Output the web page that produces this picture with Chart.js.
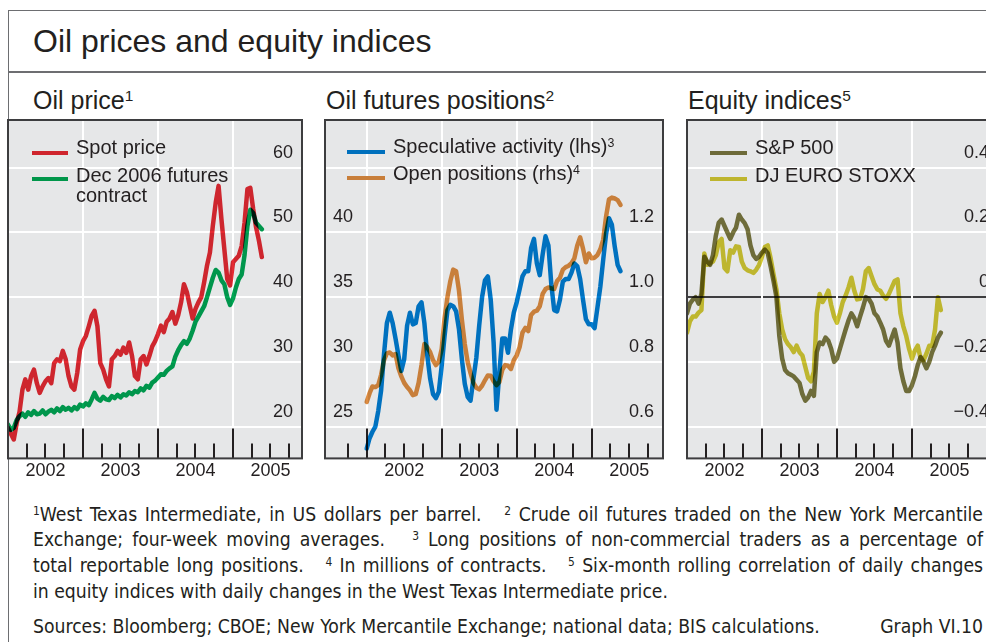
<!DOCTYPE html>
<html>
<head>
<meta charset="utf-8">
<script src="https://cdn.jsdelivr.net/npm/chart.js@4.4.1/dist/chart.umd.min.js"></script>
<style>
  html, body { margin: 0; padding: 0; width: 986px; height: 642px; overflow: hidden; background: #fff; }
  body { position: relative; font-family: "Liberation Sans", Arial, sans-serif; color: #231f20; }
  .abs { position: absolute; white-space: nowrap; }
  .frame { position: absolute; left: 8px; top: 10px; width: 1100px; height: 800px;
           border-left: 1.5px solid #6d6e71; border-top: 1.5px solid #6d6e71; }
  .rule { position: absolute; left: 8px; top: 71px; width: 1100px; height: 1.5px; background: #6d6e71; }
  .title { font-size: 32px; line-height: 32px; }
  .ptitle { font-size: 25px; line-height: 25px; }
  .leg { font-size: 20px; line-height: 20px; }
  .sw { position: absolute; height: 4px; }
  sup { font-size: 0.62em; line-height: 0; vertical-align: 0; position: relative; top: -0.48em; }
  .fn { position: absolute; left: 33px; width: 950px; font-family: "Liberation Sans Narrow", "DejaVu Sans Condensed", sans-serif;
        font-size: 19.2px; line-height: 19px; text-align: justify; text-align-last: justify; white-space: nowrap; }
  .fn.last { text-align-last: left; }
  canvas { position: absolute; }
</style>
</head>
<body>
<div class="frame"></div>
<div class="rule"></div>
<div class="abs title" style="left:33px; top:24.5px;">Oil prices and equity indices</div>

<div class="abs ptitle" style="left:33px; top:87.8px;">Oil price<sup>1</sup></div>
<div class="abs ptitle" style="left:326px; top:87.8px;">Oil futures positions<sup>2</sup></div>
<div class="abs ptitle" style="left:688px; top:87.8px;">Equity indices<sup>5</sup></div>

<canvas id="oil" width="302" height="368" style="left:4px; top:116px;"></canvas>
<canvas id="futures" width="346" height="368" style="left:321px; top:116px;"></canvas>
<canvas id="equity" width="319" height="368" style="left:683px; top:116px;"></canvas>

<!-- legends -->
<div class="sw" style="left:32px; top:150.7px; width:36px; background:#cf252d;"></div>
<div class="abs leg" style="left:76px; top:137.1px;">Spot price</div>
<div class="sw" style="left:32px; top:177.3px; width:36px; background:#00964a;"></div>
<div class="abs leg" style="left:76px; top:164.6px;">Dec 2006 futures<br>contract</div>

<div class="sw" style="left:347px; top:149.7px; width:38px; background:#0070bd;"></div>
<div class="abs leg" style="left:393px; top:136.1px;">Speculative activity (lhs)<sup>3</sup></div>
<div class="sw" style="left:347px; top:176.3px; width:38px; background:#c87e3a;"></div>
<div class="abs leg" style="left:393px; top:163.1px;">Open positions (rhs)<sup>4</sup></div>

<div class="sw" style="left:710px; top:150.7px; width:37px; background:#6e6b3a;"></div>
<div class="abs leg" style="left:755px; top:137.1px;">S&amp;P 500</div>
<div class="sw" style="left:710px; top:177.3px; width:37px; background:#beb52e;"></div>
<div class="abs leg" style="left:755px; top:164.6px;">DJ EURO STOXX</div>

<!-- footnotes -->
<div class="fn" style="top:504.5px;"><sup>1</sup>West Texas Intermediate, in US dollars per barrel.&nbsp;&nbsp; <sup>2</sup> Crude oil futures traded on the New York Mercantile</div>
<div class="fn" style="top:529.5px;">Exchange; four-week moving averages.&nbsp;&nbsp; <sup>3</sup> Long positions of non-commercial traders as a percentage of</div>
<div class="fn" style="top:555.5px;">total reportable long positions.&nbsp;&nbsp; <sup>4</sup> In millions of contracts.&nbsp;&nbsp; <sup>5</sup> Six-month rolling correlation of daily changes</div>
<div class="fn last" style="top:581.5px;">in equity indices with daily changes in the West Texas Intermediate price.</div>
<div class="fn last" style="top:616.5px;">Sources: Bloomberg; CBOE; New York Mercantile Exchange; national data; BIS calculations.</div>
<div class="fn last" style="top:616.5px; text-align:right; text-align-last:right;">Graph VI.10</div>

<script>
// fortnightly observations starting at the beginning of 2002
const xStart = 2002;
const xStep = 1 / 26;
const yearLabels = ['2002', '2003', '2004', '2005'];

// Oil price, USD per barrel
const spotPrice = [
  19.8, 18.9, 18.0, 20.5, 22.3, 25.7, 27.3, 25.7, 27.8, 28.8,
  26.7, 25.2, 26.2, 27.0, 27.5, 26.7, 29.8, 30.4, 30.1, 31.7,
  30.4, 27.8, 26.2, 25.7, 28.3, 31.9, 33.2, 34.0, 35.5, 37.1,
  37.9, 35.5, 29.8, 28.8, 27.3, 26.2, 30.4, 30.9, 31.7, 31.1,
  32.2, 31.4, 33.0, 30.9, 27.8, 27.3, 30.4, 30.9, 29.6, 30.9,
  32.4, 33.2, 34.3, 35.6, 34.6, 36.2, 36.7, 37.7, 35.9, 37.2,
  39.2, 42.0, 40.8, 38.7, 36.7, 38.2, 39.2, 40.0, 42.3, 44.9,
  46.9, 51.0, 54.6, 57.2, 52.0, 47.4, 42.8, 41.8, 45.4, 45.9,
  46.4, 47.9, 51.5, 56.7, 56.9, 53.6, 50.8, 48.7, 46.2
];
const futuresDec2006 = [
  20.3, 19.5, 19.8, 21.0, 21.6, 22.0, 21.5, 22.2, 21.8, 22.4,
  21.9, 22.0, 22.5, 21.9, 22.3, 22.6, 22.2, 22.8, 22.4, 23.0,
  22.6, 22.9, 22.5, 23.0, 22.7, 23.4, 23.1, 23.6, 23.3, 24.2,
  25.2, 24.3, 24.0, 24.6, 24.2, 24.1, 24.7, 24.4, 24.9, 24.5,
  25.0, 24.8, 25.3, 25.0, 25.5, 25.3, 25.9, 25.6, 26.3, 26.0,
  26.8, 27.1, 27.6, 28.1, 28.0, 28.6, 29.0, 29.3, 30.8, 31.8,
  32.6, 33.2, 32.8, 33.6, 34.8, 36.2, 37.0, 37.8, 38.6, 40.0,
  41.5, 43.0, 44.2, 43.8, 42.6, 42.0, 40.0, 38.8, 39.8, 41.5,
  42.8, 43.5, 46.5, 51.0, 53.5, 53.0, 51.5, 51.0, 50.5
];

// Oil futures positions
const speculativeActivity = [
  23.3, 24.1, 24.6, 25.0, 26.2, 27.8, 30.6, 33.0, 33.8, 33.0,
  31.8, 30.5, 29.3, 30.2, 32.8, 33.8, 32.9, 33.0, 34.3, 34.6,
  33.0, 30.5, 28.7, 27.5, 27.2, 27.7, 29.7, 32.0, 34.0, 34.4,
  34.3, 33.9, 32.5, 30.2, 28.3, 27.3, 27.0, 28.7, 30.3, 32.8,
  35.0, 36.3, 36.6, 34.8, 31.5, 26.3, 29.2, 31.8, 31.8, 30.7,
  32.5, 33.8, 34.6, 35.6, 36.6, 37.0, 37.0, 38.8, 39.5, 37.6,
  36.7, 38.3, 39.7, 39.0, 36.0, 34.0, 33.9, 34.8, 36.2, 36.4,
  36.4, 36.9, 37.6, 37.4, 36.4, 34.8, 33.3, 32.9, 32.9, 32.6,
  34.2, 35.8, 37.9, 39.9, 41.1, 40.6, 38.9, 37.5, 37.0
];
const openPositions = [
  0.676, 0.703, 0.724, 0.722, 0.728, 0.760, 0.805, 0.826, 0.829, 0.820,
  0.824, 0.780, 0.755, 0.735, 0.722, 0.712, 0.697, 0.700, 0.735, 0.790,
  0.855, 0.845, 0.830, 0.805, 0.790, 0.800, 0.840, 0.935, 1.000, 1.050,
  1.085, 1.080, 1.020, 0.930, 0.855, 0.800, 0.765, 0.735, 0.720, 0.715,
  0.726, 0.743, 0.758, 0.757, 0.740, 0.728, 0.738, 0.775, 0.790, 0.788,
  0.778, 0.805, 0.820, 0.845, 0.890, 0.905, 0.895, 0.945, 0.955, 0.958,
  0.972, 1.010, 1.025, 1.030, 1.027, 1.025, 1.050, 1.060, 1.085, 1.093,
  1.097, 1.105, 1.120, 1.160, 1.185, 1.150, 1.108, 1.135, 1.120, 1.122,
  1.130, 1.148, 1.178, 1.250, 1.302, 1.308, 1.305, 1.300, 1.285
];

// Equity indices: rolling correlation with oil price changes
const sp500Corr = [
  -0.050, -0.020, -0.008, 0.000, -0.020, 0.010, 0.125, 0.110, 0.100, 0.130,
  0.190, 0.230, 0.240, 0.220, 0.200, 0.180, 0.200, 0.215, 0.255, 0.240,
  0.229, 0.210, 0.160, 0.130, 0.118, 0.125, 0.138, 0.147, 0.136, 0.095,
  0.050, 0.000, -0.120, -0.190, -0.225, -0.235, -0.240, -0.245, -0.255, -0.265,
  -0.300, -0.320, -0.310, -0.290, -0.305, -0.170, -0.140, -0.145, -0.125, -0.135,
  -0.160, -0.200, -0.190, -0.160, -0.130, -0.100, -0.072, -0.050, -0.065, -0.090,
  -0.060, -0.032, 0.000, -0.005, -0.020, -0.050, -0.060, -0.079, -0.100, -0.135,
  -0.150, -0.125, -0.100, -0.140, -0.220, -0.260, -0.290, -0.290, -0.272, -0.245,
  -0.210, -0.185, -0.200, -0.220, -0.200, -0.170, -0.150, -0.125, -0.110
];
const euroStoxxCorr = [
  -0.110, -0.075, -0.060, -0.060, -0.048, -0.040, 0.135, 0.100, 0.105, 0.110,
  0.130, 0.170, 0.180, 0.090, 0.080, 0.145, 0.138, 0.157, 0.155, 0.110,
  0.090, 0.083, 0.080, 0.075, 0.085, 0.100, 0.125, 0.155, 0.160, 0.120,
  0.070, 0.024, -0.050, -0.100, -0.130, -0.145, -0.155, -0.170, -0.150, -0.170,
  -0.180, -0.215, -0.250, -0.260, -0.230, -0.050, 0.010, -0.015, 0.000, 0.020,
  -0.025, -0.060, -0.079, -0.050, -0.015, 0.005, 0.030, 0.060, 0.020, -0.007,
  -0.005, 0.025, 0.080, 0.090, 0.065, 0.040, 0.024, 0.020, 0.005, -0.005,
  0.010, 0.030, 0.050, 0.055, -0.050, -0.090, -0.120, -0.160, -0.190, -0.165,
  -0.150, -0.190, -0.195, -0.175, -0.150, -0.150, -0.100, 0.000, -0.040
];

const oilTicks = [20, 30, 40, 50, 60];
const specTicks = [25, 30, 35, 40, 45];
const openTicks = [0.6, 0.8, 1.0, 1.2];
const corrTicks = [-0.4, -0.2, 0, 0.2, 0.4];

const textColor = '#231f20';
const tickFont = { family: '"Liberation Sans", Arial, sans-serif', size: 18 };

function toPoints(values) {
  return values.map((v, i) => ({ x: xStart + i * xStep, y: v }));
}

// grey plot area, year lines, quarter tick marks, frame; lines blend like print inks
const panelPlugin = {
  id: 'panel',
  beforeDraw(chart) {
    const { ctx, chartArea: a } = chart;
    ctx.save();
    ctx.fillStyle = '#e6e7e8';
    ctx.fillRect(a.left, a.top, a.right - a.left, a.bottom - a.top);
    ctx.restore();
  },
  beforeDatasetsDraw(chart) {
    const { ctx, chartArea: a, scales: { x } } = chart;
    ctx.save();
    for (let q = Math.ceil(x.min * 4); q <= Math.floor(x.max * 4); q++) {
      const px = Math.round(x.getPixelForValue(q / 4));
      if (px < a.left + 5 || px > a.right - 5) continue;
      const major = q % 4 === 0;
      ctx.lineWidth = 2;
      if (major) {
        ctx.strokeStyle = '#ffffff';
        ctx.beginPath();
        ctx.moveTo(px, a.top);
        ctx.lineTo(px, a.bottom - 30);
        ctx.stroke();
      }
      ctx.strokeStyle = textColor;
      ctx.beginPath();
      ctx.moveTo(px, a.bottom - (major ? 30 : 15));
      ctx.lineTo(px, a.bottom);
      ctx.stroke();
    }
    ctx.restore();
    ctx.save();
    ctx.globalCompositeOperation = 'multiply';
  },
  afterDatasetsDraw(chart) {
    const { ctx, chartArea: a } = chart;
    ctx.restore();
    ctx.save();
    ctx.strokeStyle = '#3d3d3f';
    ctx.lineWidth = 2;
    ctx.strokeRect(a.left, a.top, a.right - a.left, a.bottom - a.top);
    ctx.restore();
  }
};

function xAxis(min, max) {
  return {
    type: 'linear', min, max,
    afterBuildTicks: s => { s.ticks = yearLabels.map(y => ({ value: Number(y) + 0.5 })); },
    afterFit: s => { s.paddingLeft = 0; s.paddingRight = 0; },
    ticks: { callback: v => String(Math.floor(v)), font: tickFont, color: textColor, padding: 2, maxRotation: 0, autoSkip: false },
    grid: { display: false, drawTicks: false },
    border: { display: false }
  };
}

// labels sit inside the plot, just above their grid line
function yAxis(position, min, max, values, fmt, showGrid, gridColor) {
  return {
    position, min, max,
    afterBuildTicks: s => { s.ticks = values.map(v => ({ value: v })); },
    afterFit: s => { s.width = 0; s.paddingTop = 0; s.paddingBottom = 0; },
    ticks: { mirror: true, padding: position === 'right' ? -9 : 8, labelOffset: -15,
             callback: fmt, font: tickFont, color: textColor, autoSkip: false },
    grid: { display: showGrid, color: gridColor || '#ffffff', lineWidth: 2, drawTicks: false },
    border: { display: false }
  };
}

function baseOptions(scales) {
  return {
    responsive: false,
    animation: false,
    layout: { padding: { left: 4, right: 4, top: 4, bottom: 0 } },
    plugins: { legend: { display: false }, tooltip: { enabled: false } },
    elements: { point: { radius: 0 }, line: { tension: 0, borderJoinStyle: 'round', borderCapStyle: 'round' } },
    scales
  };
}

new Chart(document.getElementById('oil'), {
  type: 'line',
  data: {
    datasets: [
      { label: 'Dec 2006 futures contract', data: toPoints(futuresDec2006), borderColor: '#00a653', borderWidth: 4.5 },
      { label: 'Spot price', data: toPoints(spotPrice), borderColor: '#e52a32', borderWidth: 4.5 }
    ]
  },
  options: baseOptions({
    x: xAxis(2002, 2005.92),
    y: yAxis('right', 15.08, 67.38, oilTicks, v => String(v), true)
  }),
  plugins: [panelPlugin]
});

new Chart(document.getElementById('futures'), {
  type: 'line',
  data: {
    datasets: [
      { label: 'Open positions (rhs)', data: toPoints(openPositions), yAxisID: 'yR', borderColor: '#de8c41', borderWidth: 4.5 },
      { label: 'Speculative activity (lhs)', data: toPoints(speculativeActivity), yAxisID: 'yL', borderColor: '#007dd2', borderWidth: 4.5 }
    ]
  },
  options: baseOptions({
    x: xAxis(2001.444, 2005.951),
    yL: yAxis('left', 22.54, 48.69, specTicks, v => (v > 40 ? '' : String(v)), true),
    yR: yAxis('right', 0.5015, 1.5477, openTicks, v => v.toFixed(1), false)
  }),
  plugins: [panelPlugin]
});

new Chart(document.getElementById('equity'), {
  type: 'line',
  data: {
    datasets: [
      { label: 'DJ EURO STOXX', data: toPoints(euroStoxxCorr), borderColor: '#d3c933', borderWidth: 4.5 },
      { label: 'S&P 500', data: toPoints(sp500Corr), borderColor: '#7a7740', borderWidth: 4.5 }
    ]
  },
  options: baseOptions({
    x: xAxis(2002, 2006.147),
    y: yAxis('right', -0.4985, 0.5477, corrTicks,
      v => (Math.abs(v) < 1e-9 ? '0' : (v < 0 ? '\u2212' : '') + Math.abs(v).toFixed(1)),
      true, c => (Math.abs(c.tick.value) < 1e-9 ? '#3d3d3f' : '#ffffff'))
  }),
  plugins: [panelPlugin]
});
</script>
</body>
</html>
